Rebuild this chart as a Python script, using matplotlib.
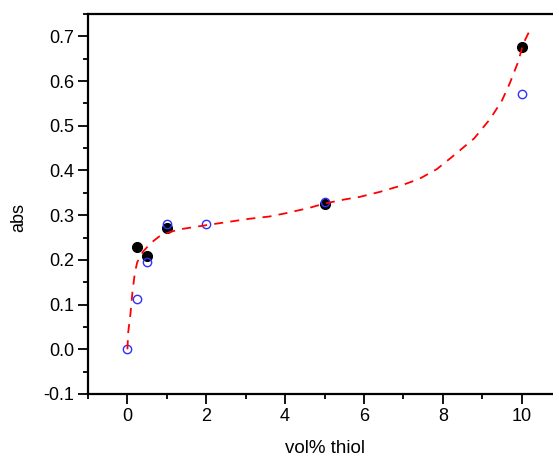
import matplotlib
matplotlib.use("Agg")
import matplotlib.pyplot as plt
from matplotlib.ticker import MultipleLocator

plt.rcParams['font.family'] = ['Liberation Sans', 'DejaVu Sans']

# Filled black points
filled_x = [0.25, 0.5, 1, 5, 10]
filled_y = [0.228, 0.208, 0.272, 0.325, 0.677]

# Open blue circles
open_x = [0, 0.25, 0.5, 1, 2, 5, 10]
open_y = [0.0, 0.113, 0.195, 0.280, 0.280, 0.330, 0.570]

# Red dashed fit curve
curve_x = [0, 0.02, 0.08, 0.13, 0.19, 0.25, 0.4, 0.6, 0.8, 1.0, 1.3, 2.1, 3.1, 3.6,
           4.0, 4.6, 5.0, 5.5, 5.9, 6.4, 6.9, 7.4, 7.85, 8.3, 8.8, 9.2, 9.5, 9.7, 9.9,
           10.05, 10.2]
curve_y = [0.0, 0.038, 0.082, 0.13, 0.172, 0.195, 0.219, 0.238, 0.252, 0.260, 0.268,
           0.279, 0.292, 0.297, 0.304, 0.316, 0.326, 0.335, 0.341, 0.352, 0.365, 0.381,
           0.403, 0.435, 0.472, 0.515, 0.556, 0.595, 0.64, 0.685, 0.712]

fig = plt.figure(figsize=(5.53, 4.62), dpi=100)
ax = fig.add_axes([88/553, 68/462, (561-88)/553, (394-14)/462])

ax.plot(filled_x, filled_y, 'o', color='black', ms=7, zorder=2)
ax.plot(open_x, open_y, 'o', mfc='none', mec='#3030ff', mew=1.0, ms=6, zorder=3)
ax.plot(curve_x, curve_y, color='red', lw=1.3, ls=(0, (5, 4)), zorder=4)

ax.set_xlim(-1, 11)
ax.set_ylim(-0.1, 0.75)
ax.xaxis.set_minor_locator(MultipleLocator(1))
ax.yaxis.set_minor_locator(MultipleLocator(0.05))
ax.set_yticks([-0.1, 0.0, 0.1, 0.2, 0.3, 0.4, 0.5, 0.6, 0.7])
ax.set_yticklabels(['-0.1', '0.0', '0.1', '0.2', '0.3', '0.4', '0.5', '0.6', '0.7'])
ax.set_xticks([0, 2, 4, 6, 8, 10])

ax.spines['right'].set_visible(False)
for s in ['left', 'bottom', 'top']:
    ax.spines[s].set_linewidth(1.6)
ax.tick_params(which='major', direction='out', length=7, width=1.3, labelsize=13, pad=3,
               top=False, right=False)
ax.tick_params(which='minor', direction='out', length=3.5, width=1.3, top=False, right=False)

ax.set_xlabel('vol% thiol', fontsize=13.5)
ax.set_ylabel('abs', fontsize=13)
ax.xaxis.set_label_coords(0.5, -0.12)
ax.yaxis.set_label_coords(-0.128, 0.465)

fig.savefig('out.png', dpi=100)
